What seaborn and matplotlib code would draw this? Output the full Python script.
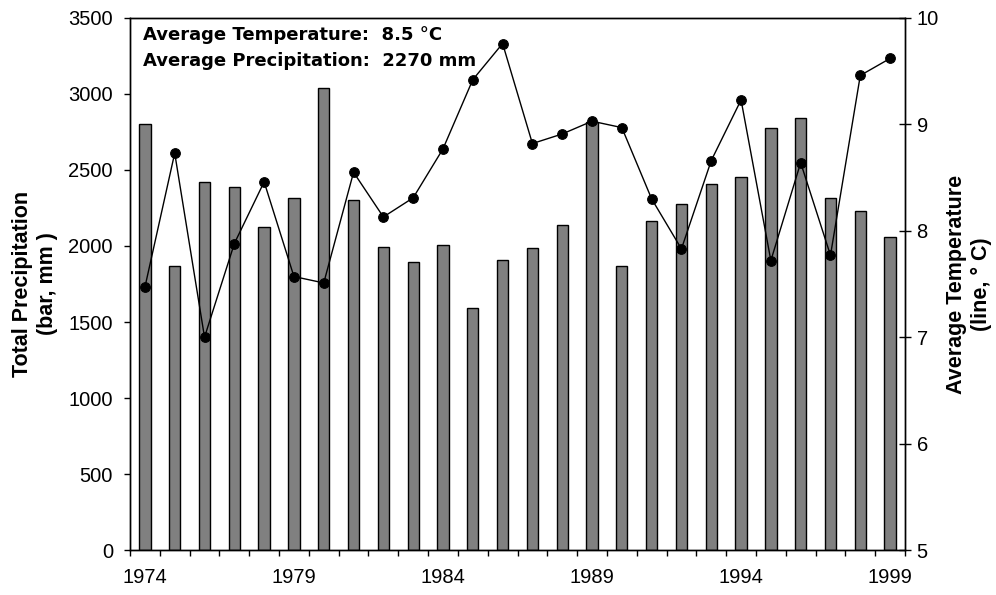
import numpy as np
import pandas as pd
import seaborn as sns
import matplotlib.pyplot as plt
from matplotlib.ticker import FixedLocator

# yearly totals
years = list(range(1974, 2000))
precip = [2800, 1870, 2420, 2390, 2125, 2316, 3041, 2303, 1995, 1895,
          2009, 1590, 1910, 1985, 2136, 2815, 1868, 2164, 2278, 2406,
          2456, 2774, 2840, 2314, 2228, 2061]
temps = [7.47, 8.73, 7.00, 7.88, 8.46, 7.57, 7.51, 8.55, 8.13, 8.31,
         8.77, 9.42, 9.76, 8.82, 8.91, 9.03, 8.97, 8.30, 7.83, 8.66,
         9.23, 7.72, 8.64, 7.77, 9.46, 9.62]
label_years = [1974, 1979, 1984, 1989, 1994, 1999]

df = pd.DataFrame({'year': years, 'precip': precip, 'temp': temps})

sns.set_style('ticks')
plt.rcParams['font.family'] = ['Liberation Sans', 'DejaVu Sans']
plt.rcParams['text.color'] = 'black'
plt.rcParams['xtick.color'] = 'black'
plt.rcParams['ytick.color'] = 'black'
plt.rcParams['axes.labelcolor'] = 'black'

fig = plt.figure(figsize=(9.96, 5.95), dpi=100)
ax = fig.add_axes([130/996, 45/595, 775/996, 532/595])

# bars: precipitation
sns.barplot(data=df, x='year', y='precip', native_scale=True, width=0.38,
            color='#808080', saturation=1, edgecolor='black', linewidth=1, ax=ax)
ax.set_xlim(1973.5, 1999.5)
ax.set_ylim(0, 3500)
ax.set_yticks(range(0, 3501, 500))
ax.set_xticks(label_years)
ax.xaxis.set_minor_locator(FixedLocator(np.arange(1973.5, 2000, 1)))
ax.tick_params(axis='x', which='major', length=0, pad=13, labelsize=14.5)
ax.tick_params(axis='x', which='minor', length=4.5, width=1, direction='out')
ax.tick_params(axis='y', length=4.3, width=1, pad=8, labelsize=14.5, direction='out')
ax.set_xlabel('')
ax.set_ylabel('Total Precipitation\n(bar, mm )', fontsize=15.5, fontweight='bold',
              va='center', linespacing=1.3)
ax.yaxis.set_label_coords((35 - 130) / 775, 0.5)
for s in ax.spines.values():
    s.set_linewidth(1)
    s.set_color('black')

# line: temperature on right axis
ax2 = ax.twinx()
sns.lineplot(data=df, x='year', y='temp', ax=ax2, color='black', linewidth=1,
             marker='o', markersize=7, markeredgecolor='black')
ax2.set_ylim(5, 10)
ax2.set_yticks(range(5, 11))
ax2.tick_params(axis='y', length=8.6, width=1, direction='inout', pad=4, labelsize=14.5)
ax2.set_ylabel('Average Temperature\n(line, ° C)', fontsize=15.5, fontweight='bold',
               va='center', linespacing=1.3)
ax2.yaxis.set_label_coords((969 - 130) / 775, 0.5)
for s in ax2.spines.values():
    s.set_linewidth(1)
    s.set_color('black')

ax.text(0.017, 0.985, 'Average Temperature:  8.5 °C\nAverage Precipitation:  2270 mm',
        transform=ax.transAxes, ha='left', va='top', fontsize=13,
        fontweight='bold', family='DejaVu Sans', linespacing=1.55)

fig.savefig('out.png', dpi=100)
